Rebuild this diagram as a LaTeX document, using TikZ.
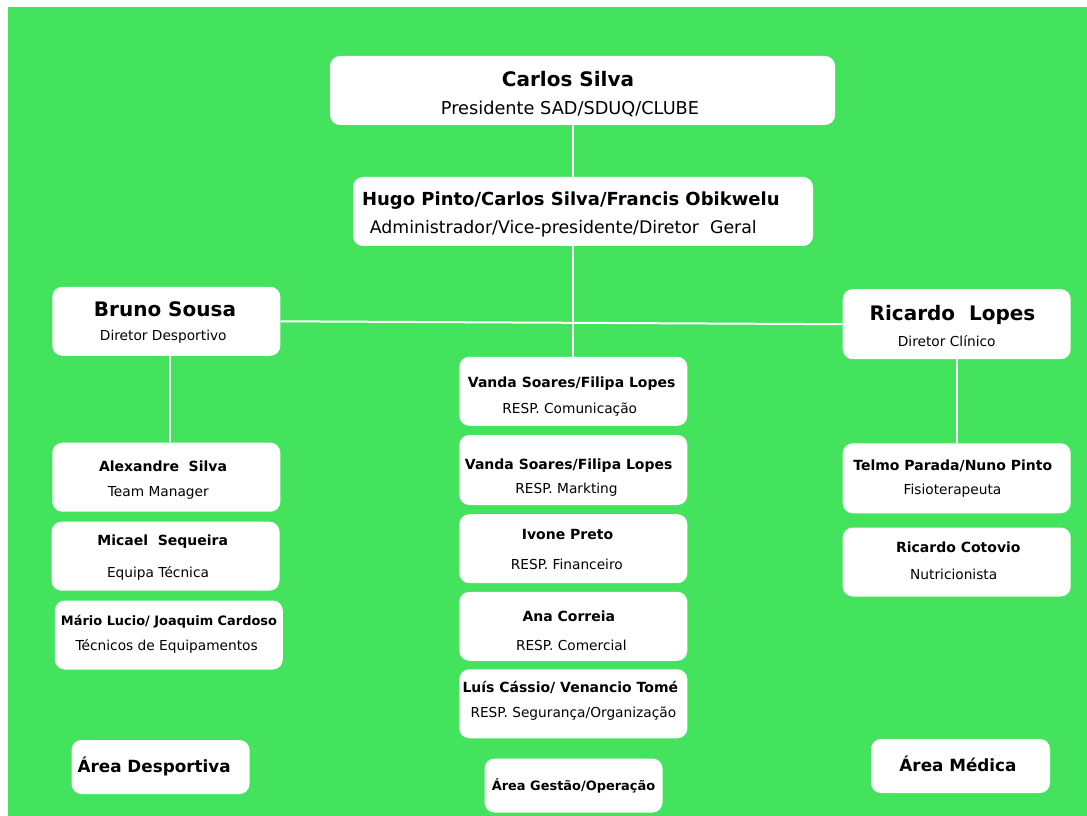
\documentclass[tikz,border=0pt]{standalone}
\usepackage{fontspec}
\setmainfont{DejaVu Sans}
\definecolor{campo}{RGB}{68,227,94}
\newlength{\desvx}
\newlength{\desvy}
% #1 peso, #2 tamanho, #3 dx, #4 dy (px, a partir do centro da caixa), #5 texto
\newcommand{\linha}[5]{%
    \pgfmathsetlength{\desvx}{1.5*(#3)}%
    \pgfmathsetlength{\desvy}{-0.75*(#4)-0.365*#2}%
    \makebox[0pt]{\hspace*{\desvx}\raisebox{\desvy}[0pt][0pt]{\fontsize{#2}{#2}\selectfont#1\relax #5}}}
\newcommand{\ttl}[4]{\linha{\bfseries}{#1}{#2}{#3}{#4}}
\newcommand{\cargo}[4]{\linha{}{#1}{#2}{#3}{#4}}

\begin{document}
\begin{tikzpicture}[x=0.75pt,y=-0.75pt,
    caixa/.style={fill=white,rounded corners=7.5pt,inner sep=0pt,
        minimum width=228*0.75pt,minimum height=69*0.75pt},
    area/.style={caixa,minimum width=178*0.75pt,minimum height=54*0.75pt},
    fio/.style={draw=white,line width=1.5pt}]
    \useasboundingbox (0,0) rectangle (1087,816);
    \fill[campo] (8,7) rectangle (1087,816);
    % topo
    \node[caixa,minimum width=505*0.75pt] (carlos) at (582.5,90.5) {\ttl{15}{-14.5}{-11.5}{Carlos Silva}\cargo{13.3}{-12.5}{17.8}{Presidente SAD/SDUQ/CLUBE}};
    \node[caixa,minimum width=460*0.75pt] (hugo) at (583,211.5) {\ttl{13.5}{-12.2}{-12.5}{Hugo Pinto/Carlos Silva/Francis Obikwelu}\cargo{13}{-19.7}{16}{Administrador/Vice-presidente/Diretor\ \ Geral}};
    \node[caixa] (bruno) at (166.3,321.3) {\ttl{15}{-1.3}{-11.8}{Bruno Sousa}\cargo{10.3}{-3}{14.2}{Diretor Desportivo}};
    \node[caixa,minimum height=70*0.75pt] (rlopes) at (956.7,324.2) {\ttl{15}{-4.2}{-10.9}{Ricardo\ \ Lopes}\cargo{10.3}{-10}{17.6}{Diretor Clínico}};
    % area desportiva
    \node[caixa] (alex) at (166.3,477.2) {\ttl{10.5}{-3.3}{-10.9}{Alexandre\ \ Silva}\cargo{10.3}{-8}{14.5}{Team Manager}};
    \node[caixa] (micael) at (165.5,556.2) {\ttl{10.5}{-2.8}{-15.4}{Micael\ \ Sequeira}\cargo{10.3}{-7.5}{16.3}{Equipa Técnica}};
    \node[caixa,minimum width=228*0.75pt] (mario) at (168.8,635) {\ttl{9.7}{0.2}{-14.7}{Mário Lucio/ Joaquim Cardoso}\cargo{10.3}{-2.1}{10.3}{Técnicos de Equipamentos}};
    \node[area] (adesp) at (160.5,767) {\ttl{12.6}{-6.3}{-1}{Área Desportiva}};
    % area gestao
    \node[caixa] (vanda1) at (573.3,391.3) {\ttl{10.5}{-1.6}{-8.8}{Vanda Soares/Filipa Lopes}\cargo{10.3}{-3.6}{17}{RESP. Comunicação}};
    \node[caixa,minimum height=70*0.75pt] (vanda2) at (573.3,470) {\ttl{10.5}{-4.6}{-5.8}{Vanda Soares/Filipa Lopes}\cargo{10.3}{-6.8}{18.7}{RESP. Markting}};
    \node[caixa] (ivone) at (573.3,548.7) {\ttl{10.5}{-5.8}{-14.2}{Ivone Preto}\cargo{10.3}{-6.5}{15.5}{RESP. Financeiro}};
    \node[caixa] (ana) at (573.3,626.3) {\ttl{10.5}{-4.5}{-9.6}{Ana Correia}\cargo{10.3}{-2}{18.9}{RESP. Comercial}};
    \node[caixa] (luis) at (573.3,703.8) {\ttl{10.5}{-3}{-16.3}{Luís Cássio/ Venancio Tomé}\cargo{10.3}{0}{8.7}{RESP. Segurança/Organização}};
    \node[area] (gestao) at (573.5,785.5) {\ttl{9.7}{0}{0.7}{Área Gestão/Operação}};
    % area medica
    \node[caixa,minimum height=70*0.75pt] (telmo) at (956.7,478.3) {\ttl{10.5}{-3.9}{-12.5}{Telmo Parada/Nuno Pinto}\cargo{10.3}{-4.2}{10.9}{Fisioterapeuta}};
    \node[caixa] (cotovio) at (956.7,562) {\ttl{10.5}{1.6}{-14.5}{Ricardo Cotovio}\cargo{10.3}{-3}{12.2}{Nutricionista}};
    \node[area,minimum width=179*0.75pt] (amedica) at (960.5,766) {\ttl{12.6}{-2.5}{-0.8}{Área Médica}};
    % ligacoes
    \draw[fio] (carlos.south -| vanda1.north) -- (hugo.north -| vanda1.north);
    \draw[fio] (hugo.south -| vanda1.north) -- (vanda1.north);
    \draw[fio] (bruno.east) -- (rlopes.west);
    \draw[fio] ([xshift=3pt]bruno.south) -- ([xshift=3pt]alex.north);
    \draw[fio] (rlopes.south) -- (telmo.north);
\end{tikzpicture}
\end{document}
